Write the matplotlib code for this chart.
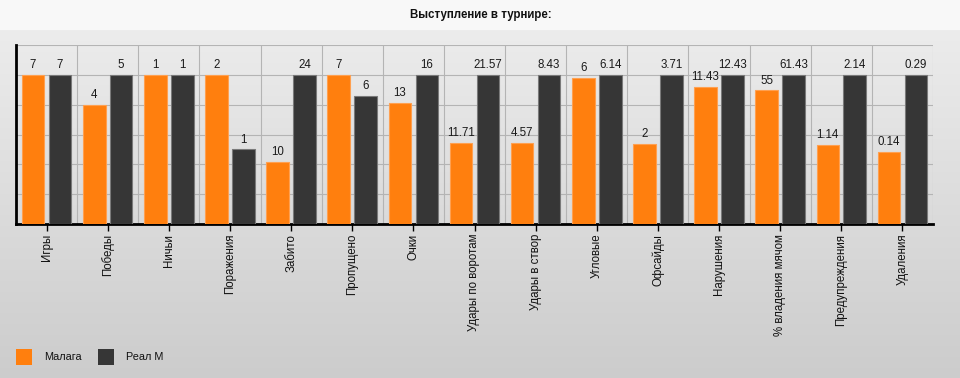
import numpy as np
import matplotlib
matplotlib.use("Agg")
import matplotlib.pyplot as plt
from matplotlib.patches import Rectangle

plt.rcParams['font.family'] = ['Liberation Sans', 'DejaVu Sans']

title = "Выступление в турнире:"
categories = ["Игры", "Победы", "Ничьи", "Поражения", "Забито", "Пропущено", "Очки",
              "Удары по воротам", "Удары в створ", "Угловые", "Офсайды", "Нарушения",
              "% владения мячом", "Предупреждения", "Удаления"]
team_a = "Малага"
team_b = "Реал М"
values_a = [7, 4, 1, 2, 10, 7, 13, 11.71, 4.57, 6, 2, 11.43, 55, 1.14, 0.14]
values_b = [7, 5, 1, 1, 24, 6, 16, 21.57, 8.43, 6.14, 3.71, 12.43, 61.43, 2.14, 0.29]
labels_a = ["7", "4", "1", "2", "10", "7", "13", "11.71", "4.57", "6", "2", "11.43", "55", "1.14", "0.14"]
labels_b = ["7", "5", "1", "1", "24", "6", "16", "21.57", "8.43", "6.14", "3.71", "12.43", "61.43", "2.14", "0.29"]

color_a = "#ff7f0e"
color_b = "#363636"

W, H = 960, 378
fig = plt.figure(figsize=(W / 100, H / 100), dpi=100)

# background gradient
bg = fig.add_axes([0, 0, 1, 1], zorder=-10)
bg.set_axis_off()
grad = np.ones((H, 1, 3))
top_band = 30
for y in range(H):
    if y < top_band:
        c = 0xf8 / 255
    else:
        t = (y - top_band) / (H - top_band)
        c = (0xec + (0xcc - 0xec) * t) / 255
    grad[y, 0, :] = c
bg.imshow(grad, aspect='auto', extent=[0, 1, 0, 1], origin='upper')
bg.set_xlim(0, 1)
bg.set_ylim(0, 1)

fig.text(481 / W, 1 - 15 / H, title, ha='center', va='center', fontsize=8.3,
         fontweight='bold', color='#111111')

left, right, top, bottom = 16, 933, 45, 224
ax = fig.add_axes([left / W, 1 - bottom / H, (right - left) / W, (bottom - top) / H])
ax.patch.set_alpha(0)

n = len(categories)
x = np.arange(n)
mx = np.maximum(values_a, values_b)
ha_ = np.array(values_a) / mx * 100
hb_ = np.array(values_b) / mx * 100
bw = 0.37
off = 0.22
ax.bar(x - off, ha_, width=bw, color=color_a, edgecolor='#ffa050', linewidth=0.8, zorder=3)
ax.bar(x + off, hb_, width=bw, color=color_b, edgecolor='#7a7a7a', linewidth=0.8, zorder=3)

for i in range(n):
    ax.text(x[i] - off, ha_[i] + 2.6, labels_a[i], ha='center', va='bottom', fontsize=8.3,
            color='#1a1a1a', zorder=4)
    ax.text(x[i] + off, hb_[i] + 2.6, labels_b[i], ha='center', va='bottom', fontsize=8.3,
            color='#1a1a1a', zorder=4)

ax.set_xlim(-0.5, n - 0.5)
ax.set_ylim(0, 120)
ax.set_yticks(np.arange(0, 121, 20))
ax.set_yticklabels([])
ax.tick_params(axis='y', length=0)
ax.set_xticks(x)
ax.set_xticklabels(categories, rotation=90, fontsize=8.3, color='#111111')
ax.set_xticks(np.arange(-0.5, n, 1), minor=True)
ax.tick_params(axis='x', which='major', length=5, width=1, color='black', pad=2)
ax.tick_params(axis='x', which='minor', length=0)
ax.grid(True, axis='y', which='major', color='#b4b4b4', linewidth=0.8, zorder=0)
ax.grid(True, axis='x', which='minor', color='#b4b4b4', linewidth=0.8, zorder=0)
ax.set_axisbelow(True)
for s in ['top', 'right']:
    ax.spines[s].set_visible(False)
ax.spines['left'].set_linewidth(2)
ax.spines['bottom'].set_linewidth(2)
ax.spines['left'].set_color('black')
ax.spines['bottom'].set_color('black')

# legend
def legend_item(x0, color, label):
    fig.patches.append(Rectangle((x0 / W, 1 - 365 / H), 16 / W, 16 / H,
                                 transform=fig.transFigure, facecolor=color,
                                 edgecolor='none', figure=fig))
    fig.text((x0 + 28) / W, 1 - 357.5 / H, label, ha='left', va='center',
             fontsize=7.8, color='#111111')

legend_item(16, color_a, team_a)
legend_item(98, color_b, team_b)

fig.savefig("out.png", dpi=100)
